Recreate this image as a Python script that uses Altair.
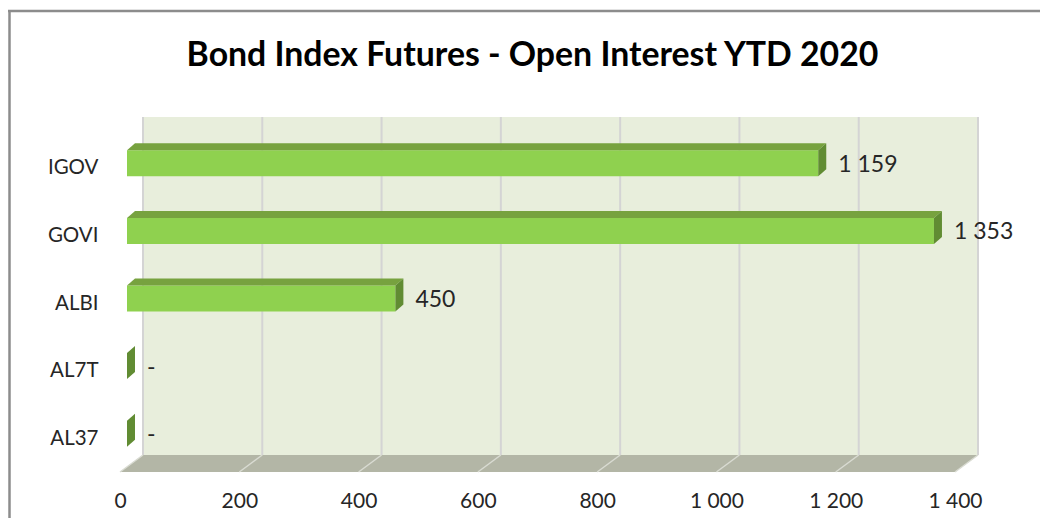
import altair as alt
import pandas as pd

# ---------------- data ----------------
categories = ["IGOV", "GOVI", "ALBI", "AL7T", "AL37"]
values = [1159, 1353, 450, 0, 0]
x_ticks = [0, 200, 400, 600, 800, 1000, 1200, 1400]
title_text = "Bond Index Futures - Open Interest YTD 2020"

# ---------------- layout constants (px) ----------------
W, H = 835, 338
PAD_L, PAD_T = 112, 126
TOTAL_W, TOTAL_H = 1032, 510
X_MAX = x_ticks[-1]
N = len(categories)
XU = X_MAX / W          # data units per px (x)
YU = N / H              # data units per px (y)

WALL_DX, WALL_DY = 23, 17      # depth of back wall
BAR_DX = 7                     # bar front face offset from front plane
BAR_CY = -4.5                  # bar centre shift (px, up)
BAR_HALF = 13                  # half height of bar front face
FACE_DX, FACE_DY = 8, 7        # depth of bar top / end faces
LABEL_GAP = 20
LABEL_DY = -3

C_FRONT = "#8FD14F"
C_TOP = "#77A23F"
C_END = "#618C33"
C_WALL = "#E8EEDC"
C_FLOOR = "#B3B6A6"
C_GRID = "#D4D4D4"
C_TEXT = "#262626"

# ---------------- derived tables ----------------
wdx, wdy = WALL_DX * XU, WALL_DY * YU
wall = pd.DataFrame({"x": [wdx], "x2": [X_MAX + wdx], "y": [-wdy], "y2": [N - wdy]})
wall_grid = pd.DataFrame({"x": [t + wdx for t in x_ticks], "y": -wdy, "y2": N - wdy})
floor = pd.DataFrame({
    "x": [0, wdx, X_MAX, X_MAX + wdx],
    "y": [N, N - wdy, N - wdy, N - wdy],
    "y2": [N, N, N, N - wdy],
})
floor_grid = pd.DataFrame({"x": [t + wdx for t in x_ticks], "x2": x_ticks,
                           "y": N - wdy, "y2": N})

front_rows, top_rows, end_rows, label_rows = [], [], [], []
fdx, fdy = FACE_DX * XU, FACE_DY * YU
for i, (cat, v) in enumerate(zip(categories, values)):
    x0 = BAR_DX * XU
    xe = v + BAR_DX * XU
    yc = i + 0.5
    yt = yc + (BAR_CY - BAR_HALF) * YU
    yb = yc + (BAR_CY + BAR_HALF) * YU
    front_rows.append({"cat": cat, "x": x0, "x2": xe, "y": yt, "y2": yb})
    if v > 0:
        top_rows += [
            {"id": cat, "x": x0, "y": yt, "y2": yt},
            {"id": cat, "x": x0 + fdx, "y": yt - fdy, "y2": yt},
            {"id": cat, "x": xe, "y": yt - fdy, "y2": yt},
            {"id": cat, "x": xe + fdx, "y": yt - fdy, "y2": yt - fdy},
        ]
    end_rows += [
        {"id": cat, "x": xe, "y": yt, "y2": yb},
        {"id": cat, "x": xe + fdx, "y": yt - fdy, "y2": yb - fdy},
    ]
    label = f"{v:,}".replace(",", " ") if v else "-"
    label_rows.append({"x": xe + LABEL_GAP * XU, "y": yc + LABEL_DY * YU, "label": label})

front = pd.DataFrame(front_rows)
top = pd.DataFrame(top_rows)
end = pd.DataFrame(end_rows)
labels = pd.DataFrame(label_rows)

# ---------------- scales / axes ----------------
xs = alt.Scale(domain=[0, X_MAX], nice=False, zero=False)
ys = alt.Scale(domain=[0, N], reverse=True, nice=False, zero=False)
cat_js = "[" + ",".join(f"'{c}'" for c in categories) + "]"

x_axis = alt.Axis(values=x_ticks, labelExpr="replace(format(datum.value, ','), ',', ' ')",
                  domain=False, ticks=False, grid=False, title=None, labelFlush=False,
                  labelOverlap=False,
                  labelFont="Lato", labelFontSize=21, labelColor=C_TEXT, labelPadding=18)
y_axis = alt.Axis(values=[i + 0.5 for i in range(N)], labelExpr=cat_js + "[floor(datum.value)]",
                  domain=False, ticks=False, grid=False, title=None, labelOverlap=False,
                  labelFont="Lato", labelFontSize=20.5, labelColor=C_TEXT, labelPadding=22)


def X(field="x"):
    return alt.X(f"{field}:Q", scale=xs, axis=x_axis)


def Y(field="y", stack=False):
    if stack:
        return alt.Y(f"{field}:Q", scale=ys, axis=y_axis, stack=None)
    return alt.Y(f"{field}:Q", scale=ys, axis=y_axis)


wall_layer = alt.Chart(wall).mark_rect(color=C_WALL).encode(
    x=X(), x2="x2:Q", y=Y(), y2="y2:Q")

wall_grid_layer = alt.Chart(wall_grid).mark_rule(color=C_GRID, strokeWidth=2).encode(
    x=X(), y=Y(), y2="y2:Q")

floor_layer = alt.Chart(floor).mark_area(orient="vertical", color=C_FLOOR).encode(
    x=X(), y=Y(stack=True), y2="y2:Q")

floor_grid_layer = alt.Chart(floor_grid).mark_rule(color="#D9DBD2", strokeWidth=1.5).encode(
    x=X(), x2="x2:Q", y=Y(), y2="y2:Q")

front_layer = alt.Chart(front).mark_rect(color=C_FRONT).encode(
    x=X(), x2="x2:Q", y=Y(), y2="y2:Q")

top_layer = alt.Chart(top).mark_area(orient="vertical", color=C_TOP).encode(
    x=X(), y=Y(stack=True), y2="y2:Q", detail="id:N")

end_layer = alt.Chart(end).mark_area(orient="vertical", color=C_END).encode(
    x=X(), y=Y(stack=True), y2="y2:Q", detail="id:N")

label_layer = alt.Chart(labels).mark_text(align="left", baseline="middle", font="Lato",
                                          fontSize=23, color=C_TEXT).encode(
    x=X(), y=Y(), text="label:N")

title_df = pd.DataFrame({"t": [title_text]})
title_layer = alt.Chart(title_df).mark_text(
    align="center", baseline="alphabetic", font="Lato", fontSize=33.8, fontWeight="bold",
    color="black").encode(x=alt.value(532.5 - 8 - PAD_L), y=alt.value(66 - 8 - PAD_T),
                          text="t:N")

frame_df = pd.DataFrame({"k": [0]})
top_border = alt.Chart(frame_df).mark_rule(color="#8C8C8C", strokeWidth=2.5).encode(
    x=alt.value(-PAD_L), x2=alt.value(TOTAL_W - PAD_L), y=alt.value(-123))
left_border = alt.Chart(frame_df).mark_rule(color="#8C8C8C", strokeWidth=2.5).encode(
    x=alt.value(-PAD_L + 1.5), y=alt.value(-124), y2=alt.value(TOTAL_H - PAD_T))

chart = alt.layer(
    wall_layer, wall_grid_layer, floor_layer, floor_grid_layer,
    front_layer, top_layer, end_layer, label_layer, title_layer, top_border, left_border,
).properties(
    width=W, height=H,
    background="white",
    autosize=alt.AutoSizeParams(type="none"),
    padding={"left": PAD_L, "top": PAD_T, "right": TOTAL_W - PAD_L - W,
             "bottom": TOTAL_H - PAD_T - H},
).configure_view(stroke=None)

chart.save("out.html", embed_options={"renderer": "svg", "actions": False})
